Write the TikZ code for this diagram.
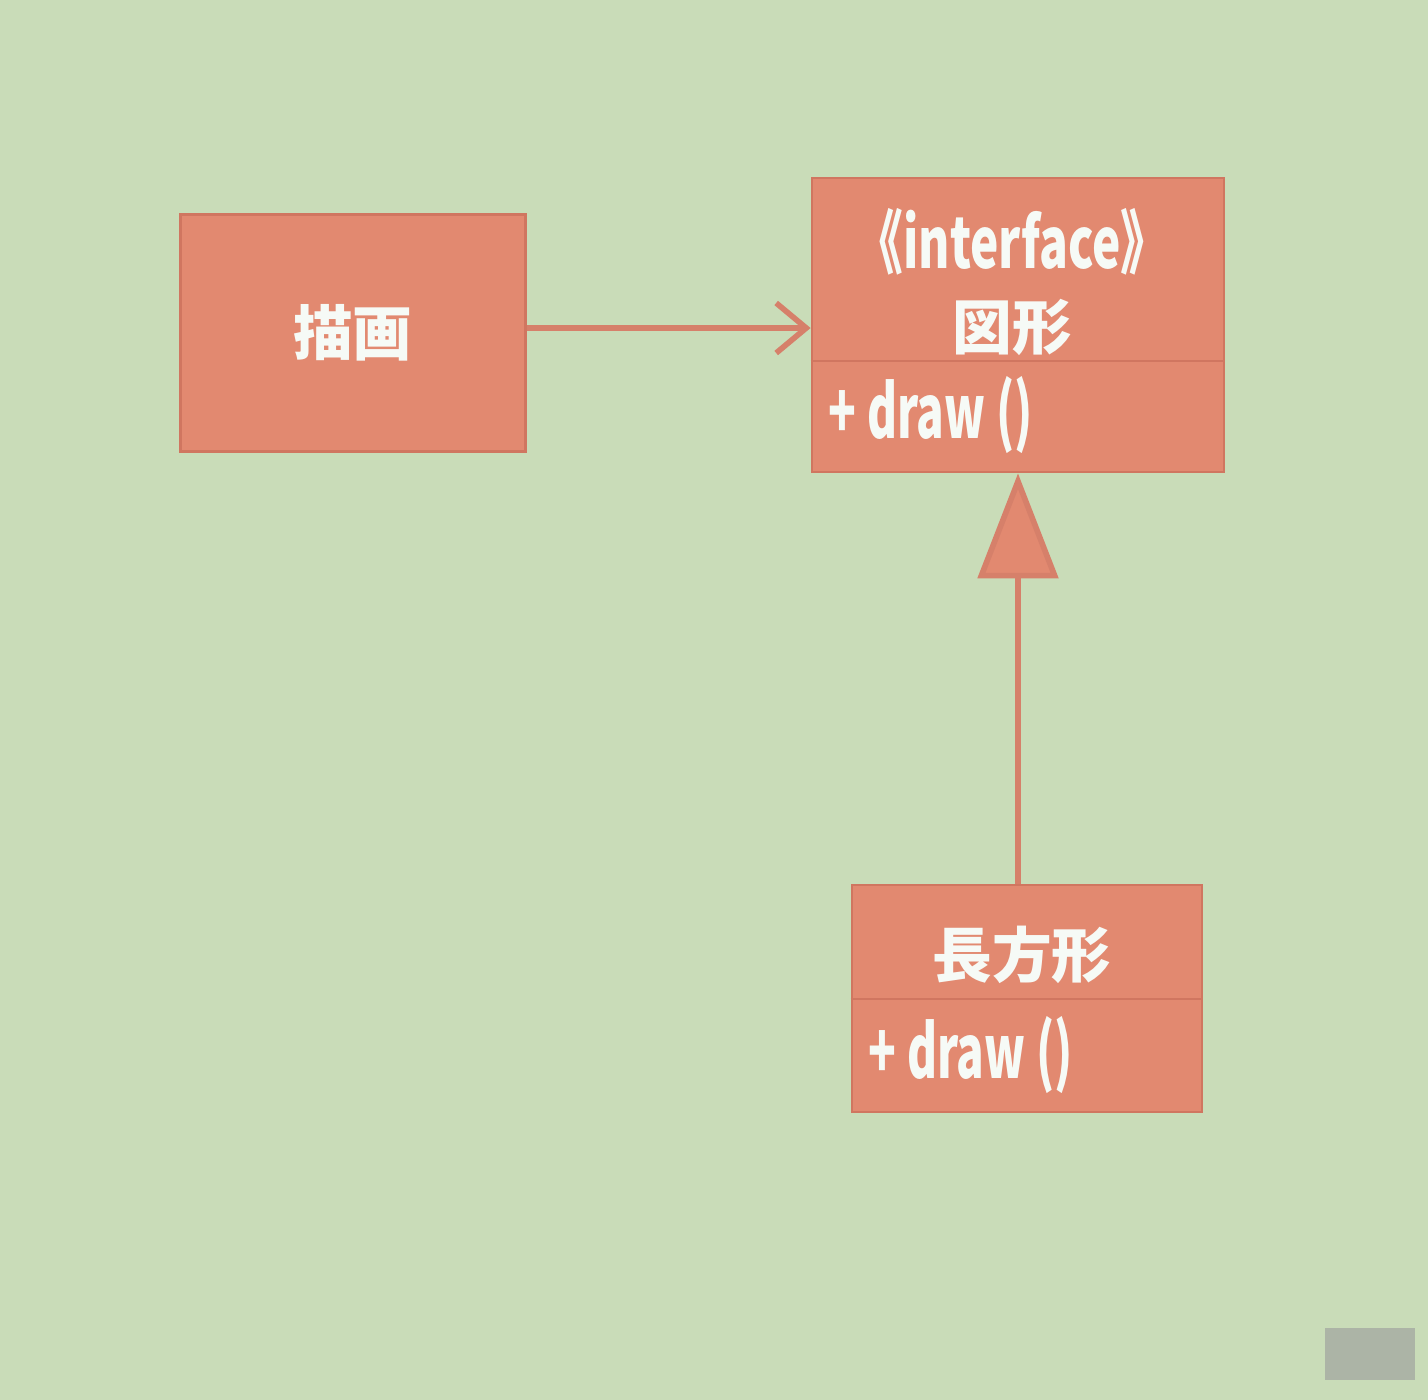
\documentclass[tikz,border=0pt]{standalone}
\usepackage{fontspec}
\usepackage{graphicx}
\newfontfamily\jpfont{Noto Sans CJK JP}
\usetikzlibrary{arrows.meta, positioning, calc}

\definecolor{screen}{RGB}{201,220,184}
\definecolor{boxfill}{RGB}{226,137,112}
\definecolor{boxedge}{RGB}{208,118,96}
\definecolor{linkcol}{RGB}{214,128,106}
\definecolor{txt}{RGB}{246,250,246}
\definecolor{pagebox}{RGB}{172,180,166}

\newcommand{\narrowtxt}[2][0.68]{\scalebox{#1}[1]{#2}}

\begin{document}
\begin{tikzpicture}[
  font=\jpfont\bfseries,
  cls/.style={draw=boxedge, line width=0.8pt, fill=boxfill, inner sep=0pt},
  clsname/.style={text=txt, font=\jpfont\bfseries\fontsize{17pt}{20pt}\selectfont, inner sep=0pt},
  stereo/.style={text=txt, font=\jpfont\bfseries\fontsize{20pt}{24pt}\selectfont, inner sep=0pt},
  oper/.style={text=txt, font=\jpfont\bfseries\fontsize{21pt}{24pt}\selectfont, inner sep=0pt, anchor=west},
  divider/.style={draw=boxedge, line width=0.6pt},
  assoc/.style={-{Straight Barb[length=3mm, width=5mm]}, line width=1.6pt, linkcol},
  inherit/.style={-{Triangle[length=10.5mm, width=8mm, fill=boxfill]}, line width=1.6pt, linkcol}]

% ---------- screen
\fill[screen] (0,0) rectangle (14.28,-14.00);
\useasboundingbox (0,0) rectangle (14.28,-14.00);

% ---------- client
\node[cls, minimum width=3.45cm, minimum height=2.37cm] (byouga) at (3.53,-3.33) {};
\node[clsname] (byougaT) at (byouga) {描画};

% ---------- interface
\node[cls, minimum width=4.12cm, minimum height=2.94cm] (zukei) at (10.18,-3.25) {};
\draw[divider] ($(zukei.north west)+(0,-1.84)$) -- ($(zukei.north east)+(0,-1.84)$);
\node[stereo] (zukeiS) at (10.12,-2.42) {\narrowtxt{《interface》}};
\node[clsname] (zukeiT) at (10.12,-3.27) {図形};
\node[oper] (zukeiO) at (8.28,-4.15) {\narrowtxt[0.62]{+ draw ()}};

% ---------- implementation
\node[cls, minimum width=3.50cm, minimum height=2.27cm] (choho) at (10.27,-9.985) {};
\draw[divider] ($(choho.north west)+(0,-1.15)$) -- ($(choho.north east)+(0,-1.15)$);
\node[clsname] (chohoT) at (10.22,-9.55) {長方形};
\node[oper] (chohoO) at (8.68,-10.55) {\narrowtxt[0.62]{+ draw ()}};

% ---------- connectors
\draw[assoc] (byouga.east |- 0,-3.28) -- (zukei.west |- 0,-3.28);
\draw[inherit] (zukei.south |- choho.north) -- (zukei.south);

% ---------- page number box
\node[fill=pagebox, minimum width=0.9cm, minimum height=0.52cm, inner sep=0pt] (page) at (13.70,-13.54) {};
\end{tikzpicture}
\end{document}
